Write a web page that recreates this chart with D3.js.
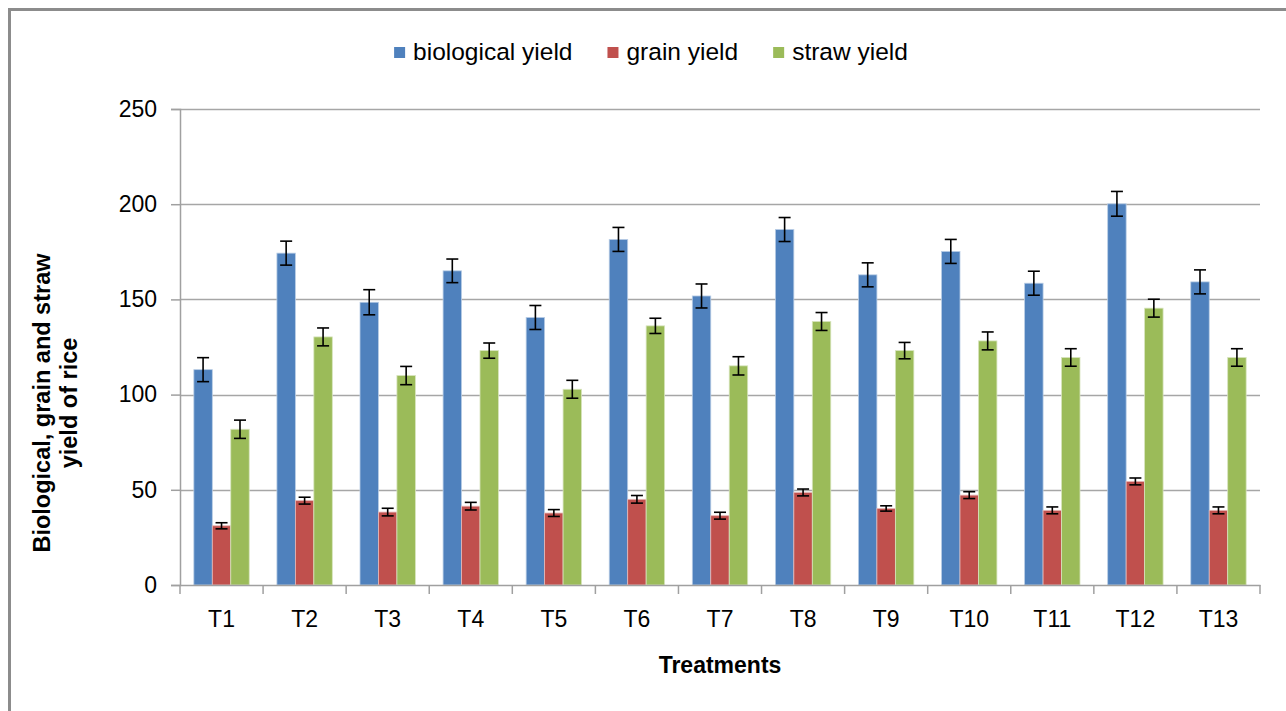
<!DOCTYPE html>
<html>
<head>
<meta charset="utf-8">
<script src="https://cdn.jsdelivr.net/npm/d3@7"></script>
<style>
  body { margin: 0; background: #fff; }
  text { font-family: "Liberation Sans", Arial, sans-serif; fill: #000; }
</style>
</head>
<body>
<div id="vis"></div>
<script>
// values
const treatments = ['T1', 'T2', 'T3', 'T4', 'T5', 'T6', 'T7', 'T8', 'T9', 'T10', 'T11', 'T12', 'T13']
const seriesNames = ['biological yield', 'grain yield', 'straw yield']
const biological = [113.1, 174.3, 148.5, 165.0, 140.5, 181.5, 151.8, 186.7, 162.9, 175.2, 158.5, 200.2, 159.2]
const grain = [31.1, 44.3, 38.3, 41.4, 37.8, 45.0, 36.4, 48.6, 40.2, 47.2, 39.2, 54.4, 39.2]
const straw = [81.8, 130.3, 110.0, 123.1, 102.8, 136.1, 115.1, 138.4, 123.1, 128.2, 119.5, 145.4, 119.5]
const biologicalErr = [6.3, 6.3, 6.6, 6.2, 6.3, 6.3, 6.3, 6.3, 6.3, 6.3, 6.3, 6.5, 6.3]
const grainErr = [1.6, 1.8, 2.0, 2.0, 1.8, 2.0, 1.8, 1.8, 1.4, 1.8, 1.8, 1.8, 1.8]
const strawErr = [4.8, 4.7, 4.8, 4.0, 4.7, 4.0, 4.8, 4.7, 4.3, 4.7, 4.6, 4.7, 4.6]
const yTicks = [0, 50, 100, 150, 200, 250]
const colors = ['#4F81BD', '#C0504D', '#9BBB59']
const edgeColors = ['#B9CDE5', '#E6B9B8', '#D7E4BD']

const seriesValues = [biological, grain, straw]
const seriesErrors = [biologicalErr, grainErr, strawErr]

const W = 1286, H = 711
const margin = {left: 180, top: 109, right: 26, bottom: 126}
const plotW = W - margin.left - margin.right
const plotH = H - margin.top - margin.bottom

const svg = d3.select('#vis').append('svg')
    .attr('width', W)
    .attr('height', H)

// chart area border (only top and left visible)
svg.append('path')
    .attr('d', 'M9.5,' + H + 'V9.5H' + W)
    .attr('fill', 'none')
    .attr('stroke', '#8c8c8c')
    .attr('stroke-width', 3)

const x = d3.scaleBand()
    .domain(treatments)
    .range([0, plotW])
    .paddingInner(0)
    .paddingOuter(0)

// gap width 150%: 3 bars + 1.5 bar widths of gap per category
const barW = x.bandwidth() / 4.5
const xInner = d3.scaleBand()
    .domain(seriesNames)
    .range([barW * 0.75, barW * 3.75])

const y = d3.scaleLinear()
    .domain([0, 250])
    .range([plotH, 0])

const g = svg.append('g')
    .attr('transform', 'translate(' + margin.left + ',' + margin.top + ')')

// gridlines
g.append('g')
    .selectAll('line')
    .data(yTicks.filter(d => d > 0))
    .enter()
    .append('line')
    .attr('x1', 0)
    .attr('x2', plotW)
    .attr('y1', d => Math.round(y(d)) + 0.5)
    .attr('y2', d => Math.round(y(d)) + 0.5)
    .attr('stroke', '#a6a6a6')
    .attr('stroke-width', 1.5)

// bars
const rows = treatments.map((t, i) => seriesNames.map((s, j) => ({
    t: t, s: s, j: j, v: seriesValues[j][i], e: seriesErrors[j][i]
})))

const groups = g.selectAll('.grp')
    .data(rows)
    .enter()
    .append('g')
    .attr('class', 'grp')
    .attr('transform', (d, i) => 'translate(' + x(treatments[i]) + ',0)')

groups.selectAll('rect')
    .data(d => d)
    .enter()
    .append('rect')
    .attr('x', d => xInner(d.s))
    .attr('width', xInner.bandwidth())
    .attr('y', d => y(d.v))
    .attr('height', d => plotH - y(d.v))
    .attr('fill', d => colors[d.j])
    .attr('stroke', d => edgeColors[d.j])
    .attr('stroke-width', 0.8)

// error bars
const capW = 12
const err = groups.selectAll('.err')
    .data(d => d)
    .enter()
    .append('g')
    .attr('class', 'err')
    .attr('stroke', '#000')
    .attr('stroke-width', 1.6)
err.append('line')
    .attr('x1', d => xInner(d.s) + xInner.bandwidth() / 2)
    .attr('x2', d => xInner(d.s) + xInner.bandwidth() / 2)
    .attr('y1', d => y(d.v + d.e))
    .attr('y2', d => y(d.v - d.e))
err.selectAll('.cap')
    .data(d => [[d, d.v + d.e], [d, d.v - d.e]])
    .enter()
    .append('line')
    .attr('x1', d => xInner(d[0].s) + xInner.bandwidth() / 2 - capW / 2)
    .attr('x2', d => xInner(d[0].s) + xInner.bandwidth() / 2 + capW / 2)
    .attr('y1', d => y(d[1]))
    .attr('y2', d => y(d[1]))

// y axis
const yAxis = g.append('g')
    .call(d3.axisLeft(y).tickValues(yTicks).tickSize(9).tickPadding(14))
yAxis.select('.domain').attr('stroke', '#a0a0a0').attr('stroke-width', 1.5)
yAxis.selectAll('.tick line').attr('stroke', '#a0a0a0').attr('stroke-width', 1.5)
yAxis.selectAll('.tick text')
    .style('font-size', '23px')
    .style('font-family', '"Liberation Sans", Arial, sans-serif')
    .attr('fill', '#000')

// x axis
const xAxis = g.append('g')
    .attr('transform', 'translate(0,' + plotH + ')')
    .call(d3.axisBottom(x).tickSize(0).tickPadding(26))
xAxis.select('.domain').attr('stroke', '#a0a0a0').attr('stroke-width', 1.5)
xAxis.selectAll('.tick text')
    .style('font-size', '23px')
    .style('font-family', '"Liberation Sans", Arial, sans-serif')
    .attr('fill', '#000')
// category separators
xAxis.selectAll('.sep')
    .data(d3.range(treatments.length + 1))
    .enter()
    .append('line')
    .attr('class', 'sep')
    .attr('x1', i => i * x.bandwidth())
    .attr('x2', i => i * x.bandwidth())
    .attr('y1', 0)
    .attr('y2', 9)
    .attr('stroke', '#a0a0a0')
    .attr('stroke-width', 1.5)

// axis titles
svg.append('text')
    .attr('x', margin.left + plotW / 2)
    .attr('y', 673)
    .attr('text-anchor', 'middle')
    .style('font-size', '23px')
    .style('font-weight', 'bold')
    .text('Treatments')

const yTitle = svg.append('text')
    .attr('transform', 'translate(50,403) rotate(-90)')
    .attr('text-anchor', 'middle')
    .style('font-size', '23.5px')
    .style('font-weight', 'bold')
yTitle.append('tspan').attr('x', 0).attr('dy', 0).text('Biological, grain and straw')
yTitle.append('tspan').attr('x', 0).attr('dy', 27).text('yield of rice')

// legend
const legend = svg.append('g')
const items = legend.selectAll('.item')
    .data(seriesNames)
    .enter()
    .append('g')
    .attr('class', 'item')
items.append('rect')
    .attr('width', 11)
    .attr('height', 11)
    .attr('y', 47)
    .attr('fill', (d, i) => colors[i])
items.append('text')
    .attr('x', 19)
    .attr('y', 60)
    .style('font-size', '24.5px')
    .text(d => d)

let cx = 0
items.each(function () {
    const w = 19 + this.querySelector('text').getComputedTextLength()
    d3.select(this).attr('transform', 'translate(' + cx + ',0)')
    cx += w + 35
})
cx -= 35
legend.attr('transform', 'translate(' + (651 - cx / 2) + ',0)')
</script>
</body>
</html>
